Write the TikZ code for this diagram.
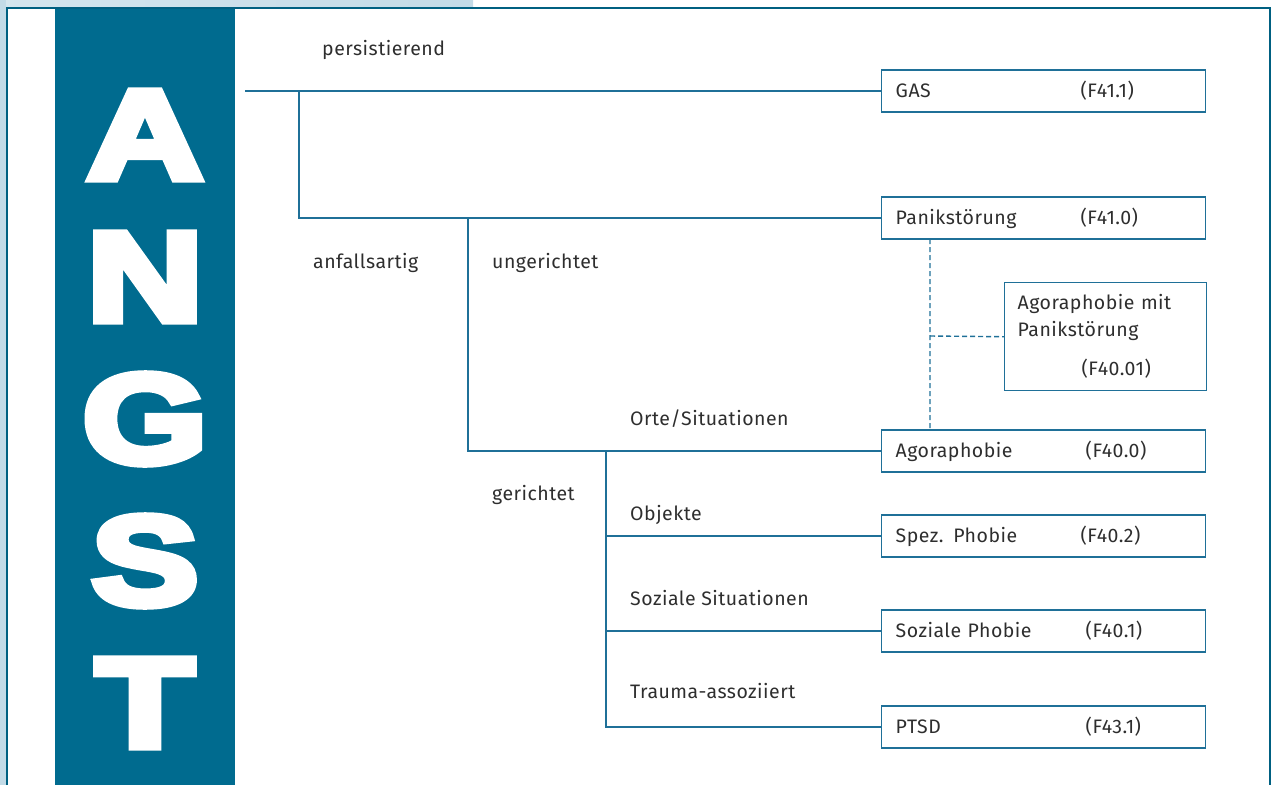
\documentclass[tikz,border=0pt]{standalone}
\usepackage{fontspec}
\setmainfont{Fira Sans}[LetterSpace=2.5]
\newfontfamily\bigfont{Liberation Sans}[BoldFeatures={FakeBold=6}]
\usepackage{xcolor}
\usetikzlibrary{
    positioning,
    calc
}
\definecolor{colblue}{HTML}{006B8F}
\definecolor{lineblue}{HTML}{1F7098}
\definecolor{textgrey}{HTML}{2E2E2E}
\definecolor{bgblue}{HTML}{C3DBE7}
\newcommand{\entry}[3][185pt]{\makebox[#1][l]{#2}#3}
\tikzset{
  basic/.style = {
      font=\fontsize{19.5}{27}\selectfont,
      text=textgrey
  },
  diag/.style = {
      basic,
      draw=lineblue,
      line width=1.4pt,
      anchor=west,
      text width=296pt,
      align=left,
      inner xsep=14pt,
      text height=14pt,
      text depth=2pt,
      minimum height=42pt
  },
  branch/.style = {
      basic,
      anchor=base west,
      inner sep=0pt
  },
  letter/.style = {
      font=\bigfont\bfseries\fontsize{127}{127}\selectfont,
      text=white,
      inner sep=0pt,
      xscale=1.26
  },
  conn/.style = {
      draw=lineblue,
      line width=1.4pt
  },
  link/.style = {
      conn,
      dash pattern=on 5pt off 3pt
  }
}
\begin{document}
\begin{tikzpicture}[x=1pt, y=-1pt, node distance=142pt]
    \useasboundingbox (0,0) rectangle (1275,785);
    % Frame and column
    \shade[left color=bgblue!70, right color=bgblue] (0,0) rectangle (473,7.5);
    \fill[bgblue] (0,0) rectangle (5.5,785);
    \fill[colblue] (55,8) rectangle (235,785);
    \draw[colblue!90!black, line width=2pt] (6.5,785) -- (6.5,7.5) -- (1269.5,7.5) -- (1269.5,785);
    % Letters
    \node[letter] (lA) at (145,135) {A};
    \node[letter, below of=lA] (lN) {N};
    \node[letter, below of=lN] (lG) {G};
    \node[letter, below of=lG] (lS) {S};
    \node[letter, below of=lS] (lT) {T};
    % Diagnoses
    \node[diag] (gas) at (881,91) {\entry{GAS}{(F41.1)}};
    \node[diag] (panik) at (881,218) {\entry{Panikstörung}{(F41.0)}};
    \node[diag] (agora) at (881,451) {\entry[190pt]{Agoraphobie}{(F40.0)}};
    \node[diag] (spez) at (881,536) {\entry{Spez. Phobie}{(F40.2)}};
    \node[diag] (soz) at (881,631) {\entry[190pt]{Soziale Phobie}{(F40.1)}};
    \node[diag] (ptsd) at (881,727) {\entry[190pt]{PTSD}{(F43.1)}};
    \node[basic, draw=lineblue, line width=1.4pt, anchor=north west, text width=176pt,
          align=left, inner xsep=13pt, inner ysep=12pt, minimum height=108pt]
          (mit) at (1004,282) {Agoraphobie mit\\Panikstörung\\[12pt]\hspace*{64pt}(F40.01)};
    % Branch labels
    \node[branch] (pers) at (322,55) {persistierend};
    \node[branch] (anf) at (313,268) {anfallsartig};
    \node[branch] (unger) at (492,268) {ungerichtet};
    \node[branch] (ger) at (492,500) {gerichtet};
    \node[branch] (orte) at (630,425) {Orte/Situationen};
    \node[branch] (obj) at (630,520) {Objekte};
    \node[branch] (sozsit) at (630,605) {Soziale Situationen};
    \node[branch] (trauma) at (630,698) {Trauma-assoziiert};
    % Edges
    \coordinate (root) at (245,91);
    \coordinate (b1) at (299,91);
    \coordinate (b2) at (468,218);
    \coordinate (b3) at (606,451);
    \path[conn]
    (root) -- (gas.west)
    (b1) |- (panik.west)
    (b2) |- (agora.west)
    (b3) |- (spez.west)
    (b3) |- (soz.west)
    (b3) |- (ptsd.west);
    \coordinate (dtop) at (930,239);
    \coordinate (dbot) at (930,430);
    \coordinate (dmid) at (930,336);
    \path[link]
    (dtop) -- (dbot)
    (dmid) -- (mit.west);
\end{tikzpicture}
\end{document}
